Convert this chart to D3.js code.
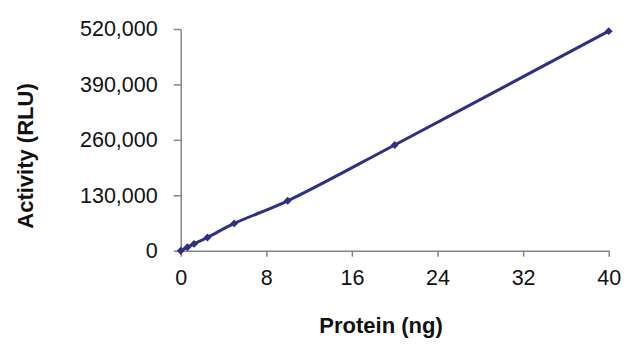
<!DOCTYPE html>
<html><head><meta charset="utf-8">
<script src="https://cdn.jsdelivr.net/npm/d3@7"></script>
<style>
html,body{margin:0;padding:0;background:#fff;}
svg{display:block;}
</style></head>
<body>
<svg id="chart" width="640" height="355"></svg>
<script>
const proteinNg = [0, 0.625, 1.25, 2.5, 5, 10, 20, 40];
const activityRLU = [0, 8000, 16000, 31000, 64000, 117000, 248000, 515000];
const xTicks = [0, 8, 16, 24, 32, 40];
const yTicks = [0, 130000, 260000, 390000, 520000];
const xTitle = "Protein (ng)";
const yTitle = "Activity (RLU)";

const svg = d3.select("#chart");
const x = d3.scaleLinear().domain([0, 40]).range([180.7, 608.7]);
const y = d3.scaleLinear().domain([0, 520000]).range([250.7, 29]);
const axisColor = "#858585";
const textColor = "#111";
const font = "'Liberation Sans', Arial, sans-serif";

const gx = svg.append("g").attr("transform", `translate(0,${y(0)})`)
  .call(d3.axisBottom(x).tickValues(xTicks).tickSize(6).tickPadding(13).tickSizeOuter(0));
const gy = svg.append("g").attr("transform", `translate(${x(0)},0)`)
  .call(d3.axisLeft(y).tickValues(yTicks).tickSize(7).tickPadding(16).tickSizeOuter(0)
    .tickFormat(d3.format(",")));
[gx, gy].forEach(g => {
  g.select(".domain").attr("stroke", axisColor).attr("stroke-width", 1.5);
  g.selectAll(".tick line").attr("stroke", axisColor).attr("stroke-width", 1.5);
  g.selectAll(".tick text").attr("fill", textColor).style("font-family", font).style("font-size", "21.5px");
});

const line = d3.line().x((d, i) => x(proteinNg[i])).y(d => y(d)).curve(d3.curveCatmullRom.alpha(0.5));
svg.append("path").datum(activityRLU).attr("d", line)
  .attr("fill", "none").attr("stroke", "#2e3083").attr("stroke-width", 3);

svg.append("g").selectAll("path").data(activityRLU).join("path")
  .attr("transform", (d, i) => `translate(${x(proteinNg[i])},${y(d)})`)
  .attr("d", d3.symbol(d3.symbolDiamond2, 40)())
  .attr("fill", "#2e3083");

svg.append("text").attr("x", 381).attr("y", 333).attr("text-anchor", "middle")
  .style("font-family", font).style("font-size", "22px").style("font-weight", "bold")
  .attr("fill", textColor).text(xTitle);
svg.append("text").attr("transform", "translate(33,156) rotate(-90)").attr("text-anchor", "middle")
  .style("font-family", font).style("font-size", "22px").style("font-weight", "bold")
  .attr("fill", textColor).text(yTitle);
</script>
</body></html>
